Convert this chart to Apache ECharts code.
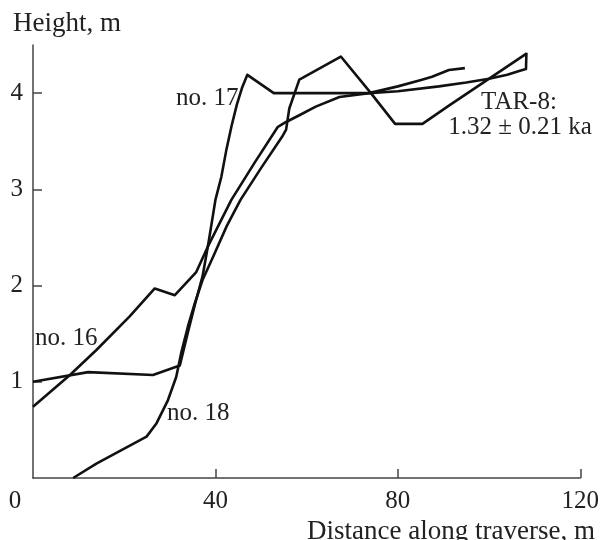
<!DOCTYPE html>
<html>
<head>
<meta charset="utf-8">
<script src="https://cdn.jsdelivr.net/npm/echarts@6/dist/echarts.min.js"></script>
<style>
html,body{margin:0;padding:0;background:#fff;}
#chart{width:602px;height:540px;}
</style>
</head>
<body>
<div id="chart"></div>
<script>
// Profile no. 16
var no16X = [0, 8.1, 13.9, 21.2, 26.7, 31.1, 35.8, 38.5, 43.5, 48.5, 53.7, 55.5, 58.4, 62, 67.2, 73.7, 80, 85.3, 87.5, 91.2, 94.7];
var no16Y = [0.74, 1.07, 1.33, 1.68, 1.97, 1.90, 2.14, 2.42, 2.89, 3.27, 3.65, 3.70, 3.77, 3.86, 3.96, 4.00, 4.07, 4.14, 4.17, 4.24, 4.26];
// Profile no. 17
var no17X = [0, 12.1, 26.3, 32.2, 34, 35.5, 37.2, 38.5, 40.0, 41.3, 42.4, 43.5, 44.7, 45.8, 47.0, 52.8, 60, 67, 73.7, 80, 89, 95, 100, 104, 106.6, 108.1, 108.2];
var no17Y = [1.0, 1.10, 1.07, 1.17, 1.52, 1.80, 2.10, 2.45, 2.89, 3.13, 3.41, 3.65, 3.88, 4.05, 4.19, 4.0, 4.0, 4.0, 4.0, 4.02, 4.07, 4.11, 4.15, 4.19, 4.23, 4.25, 4.42];
// Profile no. 18
var no18X = [8.8, 13.9, 24.9, 27.1, 29.6, 31.4, 32.5, 34, 35.5, 37.2, 39.5, 42.5, 45.5, 50, 54.8, 55.5, 56.2, 58.4, 67.5, 74.1, 79.4, 85.4, 91.2, 108.2];
var no18Y = [0, 0.15, 0.43, 0.57, 0.81, 1.05, 1.30, 1.58, 1.82, 2.06, 2.30, 2.62, 2.89, 3.22, 3.56, 3.62, 3.84, 4.14, 4.38, 4.0, 3.68, 3.68, 3.87, 4.41];

var xTicks = [0, 40, 80, 120];
var yTicks = [1, 2, 3, 4];
var xName = 'Distance along traverse, m';
var yName = 'Height, m';
var seriesLabels = ['no. 16', 'no. 17', 'no. 18'];
var datingLabel = ['TAR-8:', '1.32 ± 0.21 ka'];

function pairs(xs, ys) { return xs.map(function (x, i) { return [x, ys[i]]; }); }

var FONT = '"Liberation Serif", "Times New Roman", serif';
var TXT = '#222';
var chart = echarts.init(document.getElementById('chart'), null, {renderer: 'canvas'});

function lineSeries(name, xs, ys) {
  return {
    name: name, type: 'line', data: pairs(xs, ys), showSymbol: false, symbol: 'none',
    lineStyle: {color: '#111', width: 2.6, join: 'round'}, smooth: false, animation: false
  };
}

chart.setOption({
  animation: false,
  backgroundColor: '#fff',
  grid: {left: 33, right: 21, top: 45, bottom: 62, containLabel: false},
  xAxis: {
    type: 'value', min: 0, max: 120, interval: 40,
    axisLine: {show: true, lineStyle: {color: '#444', width: 1.5}},
    axisTick: {show: true, inside: true, length: 9, customValues: xTicks.slice(1), lineStyle: {color: '#444', width: 1.5}},
    splitLine: {show: false},
    axisLabel: {
      customValues: xTicks, margin: 11, fontSize: 25, fontFamily: FONT, color: TXT,
      formatter: function (v) { return v === 0 ? '{o|0}' : String(v); },
      rich: {o: {fontSize: 25, fontFamily: FONT, color: TXT, padding: [0, 36, 0, 0]}}
    }
  },
  yAxis: {
    type: 'value', min: 0, max: 4.5, interval: 1,
    axisLine: {show: true, lineStyle: {color: '#444', width: 1.5}},
    axisTick: {show: true, inside: true, length: 9, customValues: yTicks, lineStyle: {color: '#444', width: 1.5}},
    splitLine: {show: false},
    axisLabel: {customValues: yTicks, margin: 10, fontSize: 25, fontFamily: FONT, color: TXT}
  },
  graphic: [
    {type: 'text', left: 13, top: 10, style: {text: yName, font: '27px ' + FONT, fill: TXT}},
    {type: 'text', right: 7, top: 518, style: {text: xName, font: '27px ' + FONT, fill: TXT}},
    {type: 'text', x: 35, y: 338, style: {text: seriesLabels[0], font: '25px ' + FONT, fill: TXT, verticalAlign: 'middle'}},
    {type: 'text', x: 176, y: 98, style: {text: seriesLabels[1], font: '25px ' + FONT, fill: TXT, verticalAlign: 'middle'}},
    {type: 'text', x: 167, y: 413, style: {text: seriesLabels[2], font: '25px ' + FONT, fill: TXT, verticalAlign: 'middle'}},
    {type: 'text', x: 519, y: 102, style: {text: datingLabel[0], font: '25px ' + FONT, fill: TXT, align: 'center', verticalAlign: 'middle'}},
    {type: 'text', x: 520, y: 127, style: {text: datingLabel[1], font: '25px ' + FONT, fill: TXT, align: 'center', verticalAlign: 'middle'}}
  ],
  series: [
    lineSeries(seriesLabels[0], no16X, no16Y),
    lineSeries(seriesLabels[1], no17X, no17Y),
    lineSeries(seriesLabels[2], no18X, no18Y)
  ]
});
</script>
</body>
</html>
